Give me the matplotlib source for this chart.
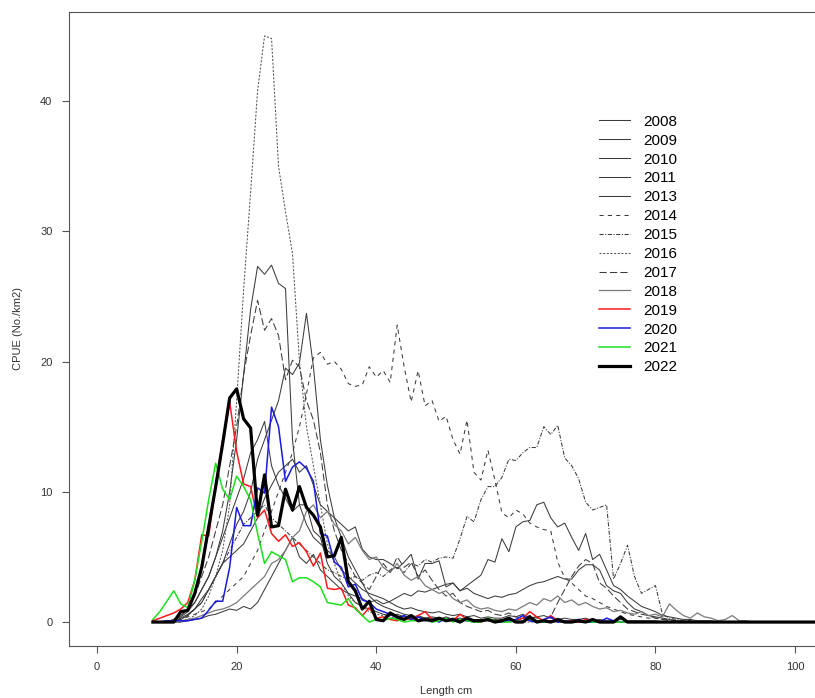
import numpy as np
import matplotlib.pyplot as plt

# ---------------------------
# data: CPUE by length (1 cm classes, 8..103 cm)
# ---------------------------
length = list(range(8, 104))

years = ['2008', '2009', '2010', '2011', '2013', '2014', '2015',
         '2016', '2017', '2018', '2019', '2020', '2021', '2022']

cpue_2008 = [0, 0, 0, 0, 0, 0.1, 0.2, 0.3, 0.5, 0.6,
             0.8, 1.0, 0.9, 1.2, 1.0, 1.5, 2.5, 3.5, 4.5, 5.5,
             6.5, 5.0, 4.5, 5.2, 4.0, 3.5, 3.0, 2.5, 2.2, 2.0,
             1.8, 1.5, 1.7, 1.4, 1.6, 1.9, 2.2, 2.0, 2.4, 2.3,
             2.5, 2.7, 2.9, 3.0, 2.4, 2.8, 3.2, 3.6, 4.8, 4.6,
             6.4, 5.4, 7.3, 7.7, 7.8, 9.0, 9.2, 8.0, 7.3, 7.6,
             6.5, 5.5, 6.8, 4.8, 5.2, 4.0, 2.8, 2.5, 2.0, 1.6,
             1.2, 1.0, 0.8, 0.5, 0.4, 0.3, 0.2, 0.2, 0.1, 0.1,
             0.1, 0, 0, 0, 0, 0, 0, 0, 0, 0,
             0, 0, 0, 0, 0, 0]
cpue_2009 = [0, 0, 0, 0.2, 0.5, 1.0, 1.5, 2.5, 3.5, 5.0,
             7.0, 10.0, 14.0, 19.0, 24.0, 27.3, 26.7, 27.4, 26.0, 25.6,
             14.0, 9.0, 9.0, 7.0, 6.5, 4.5, 3.5, 3.0, 2.2, 1.5,
             1.2, 1.0, 0.8, 0.6, 0.5, 0.6, 0.4, 0.3, 0.5, 0.3,
             0.3, 0.2, 0.4, 0.2, 0.3, 0.2, 0.1, 0.2, 0.1, 0.1,
             0.2, 0.1, 0.1, 0.3, 0.1, 0.0, 0.1, 0.1, 0.0, 0.1,
             0, 0, 0, 0, 0, 0, 0, 0, 0, 0,
             0, 0, 0, 0, 0, 0, 0, 0, 0, 0,
             0, 0, 0, 0, 0, 0, 0, 0, 0, 0,
             0, 0, 0, 0, 0, 0]
cpue_2010 = [0, 0, 0, 0, 0.3, 0.6, 1.0, 1.8, 2.5, 3.5,
             4.5, 6.0, 7.5, 8.5, 10.0, 12.5, 14.0, 15.5, 17.0, 19.5,
             19.0, 19.9, 23.7, 19.6, 14.0, 10.5, 8.0, 6.5, 5.0, 4.0,
             3.0, 2.0, 1.5, 1.2, 1.0, 0.8, 0.6, 0.5, 0.4, 0.3,
             0.4, 0.3, 0.2, 0.3, 0.2, 0.1, 0.2, 0.1, 0.1, 0.2,
             0.1, 0.1, 0.0, 0.1, 0.2, 0.1, 0.0, 0.1, 0.0, 0.0,
             0.1, 0, 0, 0, 0, 0, 0, 0, 0, 0,
             0, 0, 0, 0, 0, 0, 0, 0, 0, 0,
             0, 0, 0, 0, 0, 0, 0, 0, 0, 0,
             0, 0, 0, 0, 0, 0]
cpue_2011 = [0, 0, 0, 0.2, 0.4, 0.8, 1.5, 2.5, 3.5, 5.0,
             6.5, 8.0, 9.5, 11.0, 13.0, 14.0, 15.4, 12.0, 10.5, 9.5,
             8.5, 9.0, 7.5, 6.5, 6.0, 5.5, 5.0, 4.0, 3.5, 3.0,
             2.5, 2.2, 2.0, 1.8, 1.5, 1.2, 1.0, 1.1, 0.9, 0.8,
             0.7, 0.8, 0.6, 0.5, 0.6, 0.4, 0.5, 0.3, 0.4, 0.3,
             0.3, 0.5, 0.4, 0.6, 0.3, 0.4, 0.5, 0.3, 0.2, 0.3,
             0.2, 0.2, 0.3, 0.1, 0.2, 0.1, 0.1, 0.2, 0.1, 0.1,
             0.1, 0.1, 0.1, 0, 0, 0, 0, 0, 0, 0,
             0, 0, 0, 0, 0, 0, 0, 0, 0, 0,
             0, 0, 0, 0, 0, 0]
cpue_2013 = [0, 0, 0, 0.1, 0.2, 0.5, 1.0, 1.5, 2.5, 3.5,
             4.5, 5.0, 5.5, 6.0, 7.0, 8.0, 9.5, 10.5, 11.5, 12.0,
             12.5, 11.5, 12.0, 10.5, 9.0, 8.5, 8.0, 7.5, 7.0, 7.3,
             5.6, 5.0, 4.8, 4.8, 4.5, 4.1, 4.6, 5.2, 3.3, 4.5,
             4.5, 4.7, 2.7, 3.0, 2.4, 2.6, 2.2, 2.0, 1.8, 2.0,
             1.9, 2.1, 2.2, 2.5, 2.8, 3.0, 3.1, 3.3, 3.5, 3.3,
             3.3, 4.0, 4.4, 4.4, 4.0, 2.8, 2.4, 2.2, 1.5, 1.0,
             0.8, 0.5, 0.4, 0.3, 0.2, 0.1, 0.1, 0, 0, 0,
             0, 0, 0, 0, 0, 0, 0, 0, 0, 0,
             0, 0, 0, 0, 0, 0]
cpue_2014 = [0, 0, 0, 0, 0.2, 0.4, 0.6, 0.8, 1.0, 1.5,
             2.0, 2.5, 3.0, 3.5, 4.5, 5.5, 7.0, 8.5, 10.0, 11.5,
             13.0, 15.0, 17.5, 20.3, 20.7, 19.8, 20.0, 19.4, 18.3, 18.1,
             18.2, 19.6, 18.8, 19.3, 18.4, 22.8, 19.6, 16.9, 19.3, 16.6,
             17.0, 15.4, 15.8, 14.0, 12.9, 15.5, 11.5, 10.9, 13.2, 10.9,
             8.4, 8.0, 8.6, 8.3, 7.6, 7.3, 7.1, 7.0, 4.6, 3.4,
             3.0, 2.5, 2.0, 1.8, 1.5, 1.2, 1.0, 0.8, 0.6, 0.5,
             0.4, 0.3, 0.3, 0.2, 0.2, 0.1, 0.1, 0.1, 0, 0,
             0, 0, 0, 0, 0, 0, 0, 0, 0, 0,
             0, 0, 0, 0, 0, 0]
cpue_2015 = [0, 0, 0, 0.1, 0.3, 0.5, 1.0, 1.5, 2.5, 3.5,
             4.5, 5.5, 6.5, 7.5, 8.0, 8.5, 9.0, 8.0, 7.5, 7.0,
             6.5, 6.0, 5.5, 5.0, 4.5, 4.0, 3.8, 3.5, 3.3, 3.5,
             3.2, 3.6, 3.8, 3.5, 4.0, 4.2, 3.8, 4.5, 4.3, 4.8,
             4.6, 4.9, 5.0, 4.9, 6.4, 8.1, 7.7, 9.4, 10.4, 10.4,
             11.1, 12.5, 12.4, 13.0, 13.4, 13.4, 15.0, 14.4, 15.1, 12.6,
             12.0, 11.0, 9.2, 8.6, 8.8, 9.0, 3.3, 4.5, 5.9, 3.5,
             2.2, 2.5, 2.8, 0.6, 0.3, 0.2, 0.1, 0.1, 0, 0,
             0, 0, 0, 0, 0, 0, 0, 0, 0, 0,
             0, 0, 0, 0, 0, 0]
cpue_2016 = [0, 0, 0, 0, 0, 0.2, 0.5, 1.0, 2.0, 3.5,
             5.5, 9.0, 17.0, 25.5, 33.0, 40.8, 45.0, 44.8, 35.0, 31.5,
             28.3, 20.0, 15.0, 12.0, 9.0, 6.0, 4.5, 3.0, 2.0, 1.5,
             1.2, 0.8, 0.6, 0.5, 0.4, 0.3, 0.5, 0.3, 0.2, 0.3,
             0.2, 0.3, 0.2, 0.1, 0.2, 0.1, 0.1, 0.2, 0.1, 0.0,
             0.1, 0, 0, 0, 0, 0, 0, 0, 0, 0,
             0, 0, 0, 0, 0, 0, 0, 0, 0, 0,
             0, 0, 0, 0, 0, 0, 0, 0, 0, 0,
             0, 0, 0, 0, 0, 0, 0, 0, 0, 0,
             0, 0, 0, 0, 0, 0]
cpue_2017 = [0, 0, 0, 0.2, 0.5, 1.0, 2.0, 3.5, 5.0, 7.0,
             9.0, 12.0, 15.0, 19.0, 22.0, 24.7, 22.4, 23.3, 22.0, 18.6,
             20.1, 19.6, 17.0, 15.5, 13.0, 9.0, 7.0, 5.5, 4.5, 3.5,
             3.0, 2.5, 3.5, 4.5, 3.8, 5.0, 4.2, 4.6, 3.5, 4.0,
             3.2, 2.5, 2.0, 2.2, 1.5, 1.2, 1.0, 0.8, 0.9, 0.6,
             0.5, 0.7, 0.4, 0.3, 0.5, 0.3, 0.2, 0.4, 1.5, 2.5,
             3.5, 4.3, 4.8, 4.5, 3.0, 2.6, 2.0, 1.5, 1.0, 0.8,
             0.6, 0.5, 0.3, 0.2, 0.1, 0.1, 0, 0, 0, 0,
             0, 0, 0, 0, 0, 0, 0, 0, 0, 0,
             0, 0, 0, 0, 0, 0]
cpue_2018 = [0, 0, 0, 0, 0.1, 0.2, 0.3, 0.5, 0.7, 0.9,
             1.0, 1.2, 1.5, 2.0, 2.5, 3.0, 3.5, 4.5, 4.8, 5.5,
             6.5, 7.0, 8.5, 9.0, 8.0, 8.5, 7.5, 7.0, 6.0, 6.5,
             5.5, 4.8, 5.0, 4.2, 3.8, 4.5, 3.6, 3.2, 3.5, 2.8,
             2.5, 2.2, 2.4, 1.8, 1.5, 1.7, 1.2, 1.0, 1.1, 0.9,
             0.8, 1.0, 0.9, 1.2, 1.5, 1.3, 1.8, 1.6, 2.0, 1.5,
             1.7, 1.3, 1.5, 1.2, 1.0, 1.1, 0.8, 0.9, 0.7, 0.6,
             0.8, 0.5, 0.6, 0.4, 1.4, 0.9, 0.5, 0.3, 0.7, 0.4,
             0.3, 0.1, 0.2, 0.5, 0.1, 0.1, 0, 0, 0, 0,
             0, 0, 0, 0, 0, 0]
cpue_2019 = [0.1, 0.3, 0.5, 0.7, 1.0, 1.5, 3.2, 6.7, 6.6, 10.5,
             14.0, 16.9, 13.1, 10.6, 10.4, 8.0, 8.6, 6.8, 6.2, 6.7,
             5.8, 6.1, 5.4, 4.3, 5.3, 2.6, 2.5, 2.6, 1.3, 1.1,
             0.5, 1.1, 0.3, 0.4, 0.2, 0.1, 0.3, 0.2, 0.5, 0.8,
             0.2, 0.1, 0.3, 0.1, 0.6, 0.2, 0.1, 0.0, 0.2, 0.1,
             0.0, 0.2, 0.1, 0.3, 0.8, 0.4, 0.1, 0.5, 0.1, 0.0,
             0.1, 0.0, 0.2, 0.0, 0.1, 0, 0, 0, 0, 0,
             0, 0, 0, 0, 0, 0, 0, 0, 0, 0,
             0, 0, 0, 0, 0, 0, 0, 0, 0, 0,
             0, 0, 0, 0, 0, 0]
cpue_2020 = [0, 0, 0.1, 0.1, 0.1, 0.1, 0.2, 0.3, 0.9, 1.6,
             1.6, 4.2, 8.8, 7.4, 7.4, 10.3, 9.9, 16.5, 15.0, 10.8,
             11.9, 12.3, 11.8, 10.8, 6.8, 6.6, 4.6, 4.2, 2.7, 2.9,
             1.7, 1.5, 1.0, 0.8, 0.6, 0.3, 0.5, 0.2, 0.4, 0.1,
             0.2, 0.0, 0.3, 0.1, 0.2, 0.1, 0.0, 0.1, 0.2, 0.0,
             0.0, 0.1, 0.2, 0.5, 0.1, 0.0, 0.2, 0.4, 0.0, 0.1,
             0.0, 0.2, 0.0, 0.0, 0.0, 0.3, 0.1, 0, 0, 0,
             0, 0, 0, 0, 0, 0, 0, 0, 0, 0,
             0, 0, 0, 0, 0, 0, 0, 0, 0, 0,
             0, 0, 0, 0, 0, 0]
cpue_2021 = [0.2, 0.8, 1.6, 2.4, 1.4, 1.1, 3.2, 6.2, 9.4, 12.2,
             10.2, 9.4, 11.2, 10.4, 9.4, 6.8, 4.5, 5.4, 5.1, 4.8,
             3.1, 3.4, 3.4, 3.1, 2.7, 1.5, 1.4, 1.3, 1.8, 1.0,
             0.5, 0.0, 0.2, 0.1, 0.3, 0.2, 0.0, 0.1, 0.1, 0.2,
             0.0, 0.1, 0.3, 0.0, 0.2, 0.1, 0.0, 0.0, 0.3, 0.1,
             0.0, 0.0, 0.1, 0.0, 0.3, 0.1, 0.0, 0.0, 0.2, 0.0,
             0.0, 0.1, 0.1, 0, 0, 0, 0, 0, 0, 0,
             0, 0, 0, 0, 0, 0, 0, 0, 0, 0,
             0, 0, 0, 0, 0, 0, 0, 0, 0, 0,
             0, 0, 0, 0, 0, 0]
cpue_2022 = [0, 0, 0, 0, 0.8, 0.9, 2.2, 4.2, 7.3, 10.4,
             13.7, 17.2, 17.9, 15.6, 14.9, 8.2, 11.3, 7.3, 7.4, 10.2,
             8.6, 10.4, 8.8, 8.2, 7.3, 5.0, 5.1, 6.5, 3.1, 2.4,
             1.0, 1.6, 0.2, 0.1, 0.7, 0.4, 0.2, 0.5, 0.1, 0.2,
             0.1, 0.3, 0.1, 0.2, 0.0, 0.3, 0.1, 0.1, 0.2, 0.0,
             0.1, 0.3, 0.0, 0.0, 0.4, 0.0, 0.1, 0.0, 0.2, 0.0,
             0.0, 0.1, 0.0, 0.2, 0.0, 0.0, 0.0, 0.4, 0.0, 0.0,
             0, 0, 0, 0, 0, 0, 0, 0, 0, 0,
             0, 0, 0, 0, 0, 0, 0, 0, 0, 0,
             0, 0, 0, 0, 0, 0]

series = [cpue_2008, cpue_2009, cpue_2010, cpue_2011, cpue_2013, cpue_2014,
          cpue_2015, cpue_2016, cpue_2017, cpue_2018, cpue_2019, cpue_2020,
          cpue_2021, cpue_2022]

# ---------------------------
# styles
# ---------------------------
dk = '#3c3c3c'
styles = [
    dict(color=dk, lw=0.75, ls='-'),
    dict(color=dk, lw=0.75, ls='-'),
    dict(color=dk, lw=0.75, ls='-'),
    dict(color=dk, lw=0.75, ls='-'),
    dict(color=dk, lw=0.75, ls='-'),
    dict(color=dk, lw=0.75, ls=(0, (4, 4))),
    dict(color=dk, lw=0.75, ls=(0, (4, 1.5, 1, 1.5))),
    dict(color='#555555', lw=0.75, ls=(0, (2, 1.5))),
    dict(color=dk, lw=0.75, ls=(0, (7, 3))),
    dict(color='#7a7a7a', lw=0.9, ls='-'),
    dict(color='#ff1a1a', lw=1.1, ls='-'),
    dict(color='#1a1ae0', lw=1.1, ls='-'),
    dict(color='#1ee01e', lw=1.1, ls='-'),
    dict(color='black', lw=2.3, ls='-'),
]

plt.rcParams['font.family'] = ['Liberation Sans', 'DejaVu Sans']

fig = plt.figure(figsize=(8.15, 6.98), dpi=100)
ax = fig.add_axes([0.0848, 0.0752, 0.925, 0.907])

for yr, vals, st in zip(years, series, styles):
    ax.plot(length, vals, label=yr, **st)

ax.set_xlim(-4, 104)
ax.set_ylim(-1.8, 46.8)
ax.set_xticks([0, 20, 40, 60, 80, 100])
ax.set_yticks([0, 10, 20, 30, 40])
ax.tick_params(axis='both', length=5, width=0.8, color='#555555',
               labelsize=8, labelcolor='#333333', pad=7)
for sp in ax.spines.values():
    sp.set_color('#555555')
    sp.set_linewidth(0.8)

ax.set_xlabel('Length cm', fontsize=8, color='#333333', labelpad=10)
ax.set_ylabel('CPUE (No./km2)', fontsize=8, color='#333333', labelpad=12)

leg = ax.legend(loc='upper left', bbox_to_anchor=(0.685, 0.86),
                frameon=False, fontsize=11, handlelength=2.0,
                handletextpad=0.9, labelspacing=0.32)

fig.savefig('out.png', dpi=100)
